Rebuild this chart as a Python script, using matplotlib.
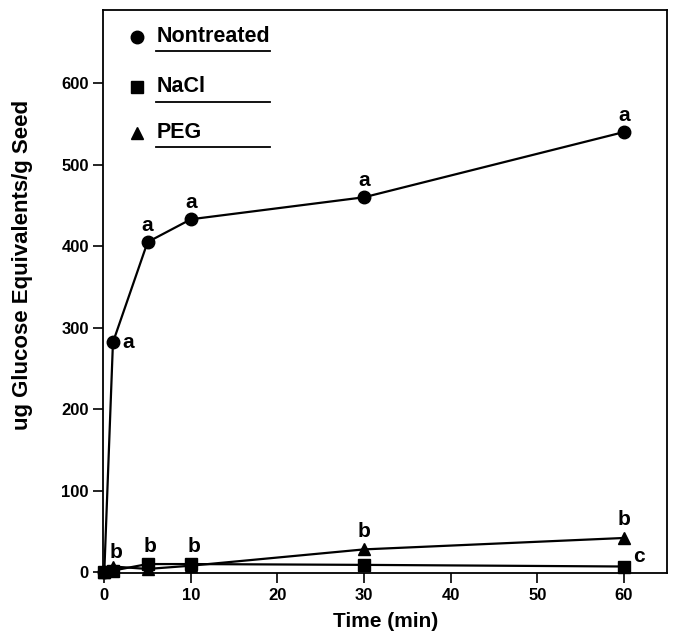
import numpy as np
import matplotlib
matplotlib.use("Agg")
import matplotlib.pyplot as plt

plt.rcParams['font.family'] = ['Liberation Sans', 'DejaVu Sans']
plt.rcParams['font.weight'] = 'bold'

# data
time = [0, 1, 5, 10, 30, 60]
nontreated = [0, 282, 405, 433, 460, 540]
nacl = [0, 2, 10, 10, 9, 7]
peg = [0, 7, 4, 8, 28, 42]

fig = plt.figure(figsize=(6.76, 6.35), dpi=100)
ax = fig.add_axes([0.153, 0.0976, 0.834, 0.887])

ax.plot(time, nontreated, '-o', color='black', lw=1.6, ms=9, clip_on=False, zorder=3)
ax.plot(time, nacl, '-s', color='black', lw=1.6, ms=9, clip_on=False, zorder=3)
ax.plot(time, peg, '-^', color='black', lw=1.6, ms=9, clip_on=False, zorder=3)

fs = 15
# letters for nontreated
ax.annotate('a', (time[1], nontreated[1]), xytext=(11, 0), textcoords='offset points',
            fontsize=fs, fontweight='bold', ha='center', va='center')
for t, v in zip(time[2:], nontreated[2:]):
    ax.annotate('a', (t, v), xytext=(0, 12), textcoords='offset points',
                fontsize=fs, fontweight='bold', ha='center', va='center')
# letters for NaCl / PEG
for t, v in zip(time[1:4], nacl[1:4]):
    ax.annotate('b', (t, v), xytext=(2, 13), textcoords='offset points',
                fontsize=fs, fontweight='bold', ha='center', va='center')
for t, v in zip(time[4:], peg[4:]):
    ax.annotate('b', (t, v), xytext=(0, 13), textcoords='offset points',
                fontsize=fs, fontweight='bold', ha='center', va='center')
ax.annotate('c', (time[5], nacl[5]), xytext=(11, 7), textcoords='offset points',
            fontsize=fs, fontweight='bold', ha='center', va='center')

ax.set_xlim(-0.1, 65)
ax.set_ylim(-1, 690)
ax.set_xticks(range(0, 61, 10))
ax.set_yticks(range(0, 601, 100))
ax.tick_params(direction='out', length=7, width=1.2, labelsize=12)
for lab in ax.get_xticklabels() + ax.get_yticklabels():
    lab.set_fontweight('bold')
for s in ax.spines.values():
    s.set_linewidth(1.3)

ax.set_xlabel('Time (min)', fontsize=15, fontweight='bold', labelpad=7)
ax.set_ylabel('ug Glucose Equivalents/g Seed', fontsize=16, fontweight='bold')
ax.yaxis.set_label_coords(-0.125, 0.547)

# custom legend with underlined labels
names = ['Nontreated', 'NaCl', 'PEG']
marks = ['o', 's', '^']
ys = [0.952, 0.863, 0.782]
for nm, mk, y in zip(names, marks, ys):
    ax.plot([0.059], [y], marker=mk, color='black', ms=9, transform=ax.transAxes)
    ax.text(0.094, y, nm, transform=ax.transAxes, fontsize=15.5, fontweight='bold', va='center')
    ax.plot([0.094, 0.295], [y - 0.026, y - 0.026], color='black', lw=1.3, transform=ax.transAxes)

fig.savefig('out.png', dpi=100)
